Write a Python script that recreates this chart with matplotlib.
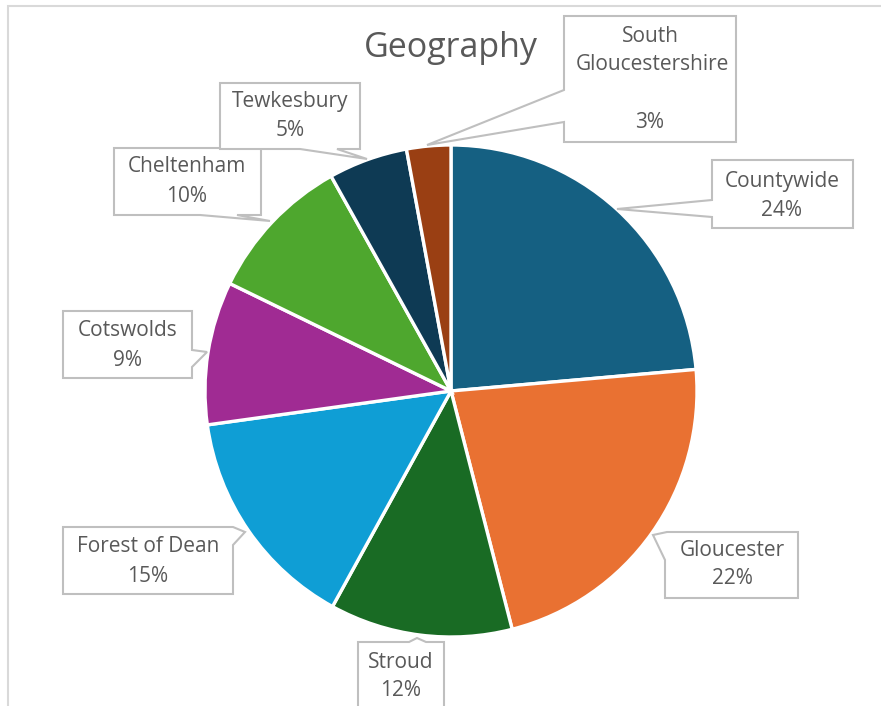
import matplotlib
matplotlib.use("Agg")
import matplotlib.pyplot as plt
from matplotlib.patches import Polygon, Rectangle

# ---- data ----
categories = ["Countywide", "Gloucester", "Stroud", "Forest of Dean",
              "Cotswolds", "Cheltenham", "Tewkesbury", "South Gloucestershire"]
values = [23.6, 22.4, 12.0, 14.8, 9.4, 9.7, 5.2, 2.9]
colors = ["#156082", "#E97132", "#196B24", "#0F9ED5",
          "#A02B93", "#4EA72E", "#0E3A54", "#9A3F13"]
title = "Geography"

W, H = 881, 706
fig = plt.figure(figsize=(W / 100, H / 100), dpi=100)
ax = fig.add_axes([0, 0, 1, 1])

def Y(y):
    return H - y

ax.pie(values, colors=colors, startangle=90, counterclock=False,
       center=(451, Y(391)), radius=246,
       wedgeprops=dict(edgecolor="white", linewidth=2.4), frame=True)
ax.set_xlim(0, W)
ax.set_ylim(0, H)
ax.set_aspect("equal")
ax.axis("off")

# chart frame
ax.add_patch(Rectangle((8, Y(720)), 900, 714, fill=False, ec="#D9D9D9", lw=1.5, zorder=0))

FONT = "Open Sans"
TXT = "#595959"
ax.text(451, Y(48), title, ha="center", va="center", fontsize=24.5,
        color=TXT, family=FONT)

# callout layout (pixel coords): polygon outline, text lines
callouts = {
    "South Gloucestershire": dict(
        poly=[(564, 16), (736, 16), (736, 142), (564, 142), (564, 122), (427, 145), (564, 90)],
        lines=[("South", 650, 36), ("Gloucestershire", 652, 64)], pct=(650, 123)),
    "Countywide": dict(
        poly=[(712, 160), (853, 160), (853, 228), (712, 228), (712, 217), (617, 209), (712, 200)],
        lines=[("Countywide", 782, 181)], pct=(782, 210)),
    "Gloucester": dict(
        poly=[(667, 532), (798, 532), (798, 598), (665, 598), (665, 560), (653, 535)],
        lines=[("Gloucester", 732, 550)], pct=(732, 579)),
    "Stroud": dict(
        poly=[(358, 642), (409, 642), (417, 638), (426, 642), (444, 642), (444, 712), (358, 712)],
        lines=[("Stroud", 401, 662)], pct=(401, 691)),
    "Forest of Dean": dict(
        poly=[(63, 527), (233, 527), (245, 532), (233, 545), (233, 594), (63, 594)],
        lines=[("Forest of Dean", 148, 547)], pct=(148, 576)),
    "Cotswolds": dict(
        poly=[(63, 311), (192, 311), (192, 350), (207, 352), (192, 367), (192, 378), (63, 378)],
        lines=[("Cotswolds", 128, 331)], pct=(128, 360)),
    "Cheltenham": dict(
        poly=[(114, 148), (261, 148), (261, 215), (237, 215), (270, 221), (200, 215), (114, 215)],
        lines=[("Cheltenham", 187, 167)], pct=(187, 197)),
    "Tewkesbury": dict(
        poly=[(220, 83), (360, 83), (360, 149), (337, 149), (367, 159), (300, 149), (220, 149)],
        lines=[("Tewkesbury", 290, 102)], pct=(290, 131)),
}

for cat, val in zip(categories, values):
    c = callouts[cat]
    pts = [(x, Y(y)) for x, y in c["poly"]]
    ax.add_patch(Polygon(pts, closed=True, fc="white", ec="#BFBFBF", lw=1.5, zorder=3))
    for s, x, y in c["lines"]:
        ax.text(x, Y(y), s, ha="center", va="center", fontsize=15,
                color=TXT, family=FONT, zorder=4)
    px, py = c["pct"]
    ax.text(px, Y(py), f"{round(val):.0f}%", ha="center", va="center", fontsize=15,
            color=TXT, family=FONT, zorder=4)

fig.savefig("out.png", dpi=100, facecolor="white")
